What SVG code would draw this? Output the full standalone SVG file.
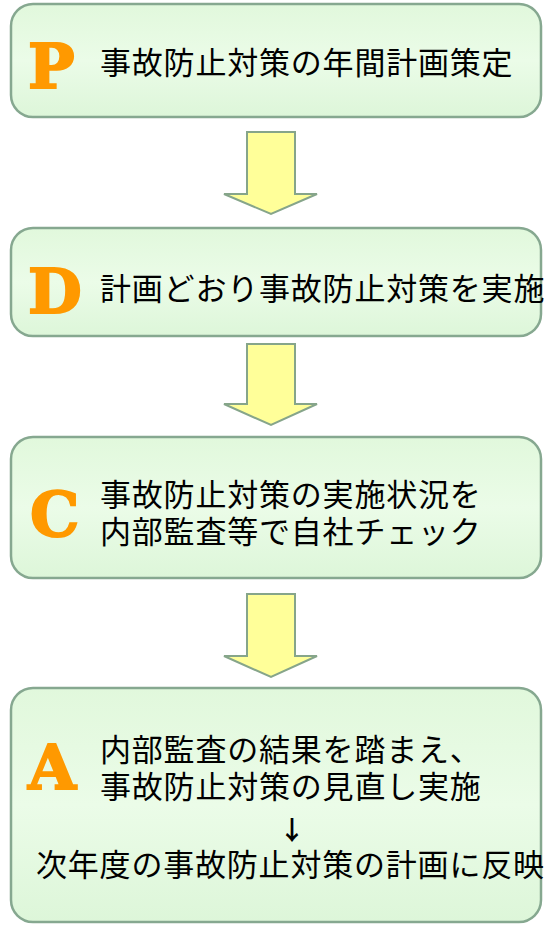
<svg xmlns="http://www.w3.org/2000/svg" width="551" height="929" viewBox="0 0 551 929">
  <defs>
    <linearGradient id="boxFill" x1="0" y1="0" x2="0" y2="1">
      <stop offset="0" stop-color="#e1f8dc"/>
      <stop offset="0.5" stop-color="#ebfce8"/>
      <stop offset="1" stop-color="#ddf6d9"/>
    </linearGradient>
  </defs>
  <style>
    .box { fill: url(#boxFill); stroke: #86a890; stroke-width: 2.5; }
    .arrow { fill: #ffff99; stroke: #86a58a; stroke-width: 2; stroke-linejoin: miter; }
    .letter { font-family: "DejaVu Serif", "Liberation Serif", serif; font-weight: bold; font-size: 62px; fill: #ff9900; stroke: #ff9900; stroke-width: 2; }
    .txt { font-family: "Liberation Sans", "Noto Sans CJK JP", sans-serif; font-size: 31px; fill: #000000; letter-spacing: 0.8px; }
    .down { font-family: "Noto Sans CJK JP", sans-serif; font-size: 26px; font-weight: bold; fill: #000000; }
  </style>
  <rect width="551" height="929" fill="#ffffff"/>

  <g id="connectors">
    <polygon class="arrow" points="247,132 295,132 295,194 317,194 271,214 224,194 247,194"/>
    <polygon class="arrow" points="247,344 295,344 295,404 317,404 271,425 224,404 247,404"/>
    <polygon class="arrow" points="247,594 295,594 295,656 317,656 271,677 224,656 247,656"/>
  </g>

  <g id="node-P">
    <rect class="box" x="11" y="4" width="530" height="113" rx="22" ry="22"/>
    <text class="letter" x="28" y="88">P</text>
    <text class="txt" x="100" y="74">事故防止対策の年間計画策定</text>
  </g>

  <g id="node-D">
    <rect class="box" x="11" y="228" width="530" height="108" rx="22" ry="22"/>
    <text class="letter" x="28" y="313">D</text>
    <text class="txt" x="100" y="300">計画どおり事故防止対策を実施</text>
  </g>

  <g id="node-C">
    <rect class="box" x="11" y="437" width="530" height="141" rx="22" ry="22"/>
    <text class="letter" x="30" y="536">C</text>
    <text class="txt" x="100" y="506">事故防止対策の実施状況を</text>
    <text class="txt" x="100" y="543">内部監査等で自社チェック</text>
  </g>

  <g id="node-A">
    <rect class="box" x="11" y="688" width="530" height="234" rx="22" ry="22"/>
    <text class="letter" x="28" y="789">A</text>
    <text class="txt" x="100" y="761">内部監査の結果を踏まえ、</text>
    <text class="txt" x="100" y="798">事故防止対策の見直し実施</text>
    <text class="down" x="292" y="840" text-anchor="middle">↓</text>
    <text class="txt" x="36" y="876">次年度の事故防止対策の計画に反映</text>
  </g>
</svg>
